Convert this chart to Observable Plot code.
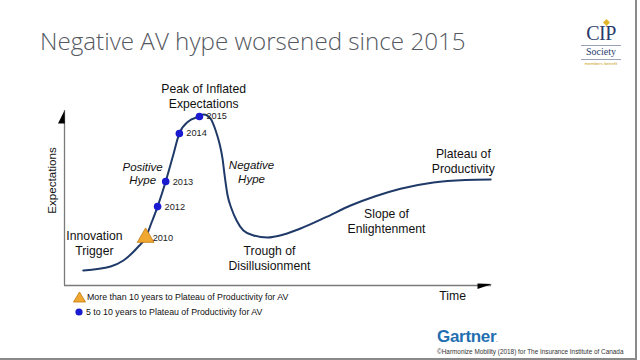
<!DOCTYPE html>
<html>
<head>
<meta charset="utf-8">
<script src="https://cdn.jsdelivr.net/npm/d3@7"></script>
<script src="https://cdn.jsdelivr.net/npm/@observablehq/plot@0.6"></script>
<style>
  html, body { margin: 0; padding: 0; background: #fff; }
  body { width: 640px; height: 360px; position: relative; overflow: hidden; font-family: "Liberation Sans", Arial, sans-serif; }
  #chart { position: absolute; left: 0; top: 0; }
  .title { position: absolute; left: 40px; top: 24px; font-family: "Open Sans", sans-serif; font-weight: 300; font-size: 24.2px; color: #55595f; white-space: nowrap; }
  .legend { position: absolute; left: 73px; font-size: 8.8px; color: #111; white-space: nowrap; display: flex; align-items: center; }
  .legend svg { margin-right: 1px; }
  .gartner { position: absolute; left: 437px; top: 327px; font-size: 17px; font-weight: bold; color: #1f6fb0; letter-spacing: -0.3px; }
  .copy { position: absolute; left: 437px; top: 348px; font-size: 6.4px; color: #333; white-space: nowrap; }
  .border-r { position: absolute; left: 635px; top: 0; width: 1.5px; height: 359px; background: #8a8a8a; }
  .border-b { position: absolute; left: 0; top: 358px; width: 637px; height: 1.5px; background: #8a8a8a; }
  .logo { position: absolute; left: 581px; top: 20px; width: 40px; text-align: center; font-family: "Liberation Serif", "DejaVu Serif", serif; color: #2b3b6b; }
  .logo .cip { font-size: 20px; line-height: 19px; margin-top: 4px; letter-spacing: -0.5px; }
  .logo .soc { font-size: 10px; line-height: 10px; border-top: 1px solid #9aa3b8; border-bottom: 1px solid #9aa3b8; margin-top: 2px; padding: 1px 0 2px; }
  .logo .mb { font-size: 4.4px; color: #c9a227; margin-top: 1px; font-family: "Liberation Sans", sans-serif; }
  .logo .gem { position: absolute; left: 23px; top: 0px; width: 5px; height: 5px; background: #e3b52a; transform: rotate(45deg); }
</style>
</head>
<body>
<div class="title">Negative AV hype worsened since 2015</div>
<div class="logo"><div class="gem"></div><div class="cip">CIP</div><div class="soc">Society</div><div class="mb">members benefit</div></div>
<div id="chart"></div>
<div class="legend" style="top:291px"><svg width="13" height="12"><path d="M6.5 1 L12.5 11 L0.5 11 Z" fill="#f0a830" stroke="#c07a10" stroke-width="0.8"/></svg>More than 10 years to Plateau of Productivity for AV</div>
<div class="legend" style="top:306px"><svg width="12" height="12"><circle cx="6" cy="6" r="3.6" fill="#1a1ad0"/></svg>5 to 10 years to Plateau of Productivity for AV</div>
<div class="gartner">Gartner<span style="font-size:5px;vertical-align:baseline">.</span></div>
<div class="copy">©Harmonize Mobility (2018) for The Insurance Institute of Canada</div>
<div class="border-r"></div>
<div class="border-b"></div>
<script>
// Hype-cycle curve (time 0–100, expectations 0–100)
const curveTime   = [4.4, 10.8, 13.8, 17.1, 19.0, 20.4, 21.8, 23.7, 25.3, 26.9, 29.0, 31.6, 32.6, 34.2, 35.4, 36.3, 37.0, 37.5, 38.2, 39.1, 40.3, 41.9, 44.3, 47.5, 51.3, 55.3, 61.1, 67.0, 72.8, 78.7, 86.4, 93.9, 99.8];
const curveExpect = [8.6, 10.9, 14.3, 21.7, 27.4, 36.0, 45.1, 59.4, 73.1, 86.9, 93.7, 96.6, 97.7, 95.4, 88.6, 81.1, 72.6, 62.9, 51.4, 44.0, 37.1, 31.4, 28.6, 27.4, 29.1, 32.6, 38.9, 45.7, 51.0, 55.3, 58.9, 60.3, 60.6];

// AV positions by year
const years      = ["2010", "2012", "2013", "2014", "2015"];
const yearTime   = [19.0, 21.8, 23.7, 26.9, 31.6];
const yearExpect = [27.4, 45.1, 59.4, 86.9, 96.6];
const yearGroup  = ["more than 10", "5 to 10", "5 to 10", "5 to 10", "5 to 10"];

// Phase labels
const phaseLabels = ["Peak of Inflated\nExpectations", "Innovation\nTrigger", "Trough of\nDisillusionment", "Slope of\nEnlightenment", "Plateau of\nProductivity"];
const phaseTime   = [32.6, 7.0, 48.0, 75.4, 93.4];
const phaseExpect = [108.3, 24.3, 15.7, 36.9, 71.4];
const hypeLabels  = ["Positive\nHype", "Negative\nHype"];
const hypeTime    = [18.3, 43.8];
const hypeExpect  = [64.3, 64.9];

const curve = curveTime.map((t, i) => ({t, e: curveExpect[i]}));
const pts = years.map((y, i) => ({year: y, t: yearTime[i], e: yearExpect[i], g: yearGroup[i]}));
const phases = phaseLabels.map((l, i) => ({label: l, t: phaseTime[i], e: phaseExpect[i]}));
const hypes = hypeLabels.map((l, i) => ({label: l, t: hypeTime[i], e: hypeExpect[i]}));

const upArrow = {draw(ctx) { ctx.moveTo(0, 0); ctx.lineTo(0.3, 13); ctx.lineTo(-6.5, 13); ctx.closePath(); }};
const rightArrow = {draw(ctx) { ctx.moveTo(-14, -2); ctx.lineTo(0.5, -1.5); ctx.lineTo(-14, 3.5); ctx.closePath(); }};

const chart = Plot.plot({
  width: 640, height: 360,
  marginLeft: 64, marginRight: 149, marginTop: 110, marginBottom: 75,
  x: {domain: [0, 100], axis: null},
  y: {domain: [0, 100], axis: null},
  style: {fontFamily: "'Liberation Sans', Arial, sans-serif", background: "transparent", overflow: "visible"},
  marks: [
    Plot.ruleX([0], {stroke: "#7a7a7a", strokeWidth: 1.3}),
    Plot.ruleY([0], {stroke: "#7a7a7a", strokeWidth: 1.3}),
    Plot.dot([{t: 0, e: 100}], {x: "t", y: "e", symbol: upArrow, fill: "#000", stroke: "none"}),
    Plot.dot([{t: 100, e: 0}], {x: "t", y: "e", symbol: rightArrow, fill: "#000", stroke: "none"}),
    Plot.line(curve, {x: "t", y: "e", curve: "monotone-x", stroke: "#1f3a68", strokeWidth: 2}),
    Plot.dot(pts.filter(d => d.g === "5 to 10"), {x: "t", y: "e", r: 3.8, fill: "#1a1ad0", stroke: "none"}),
    Plot.dot(pts.filter(d => d.g === "more than 10"), {x: "t", y: "e", symbol: "triangle", r: 6.2, fill: "#f0a830", stroke: "#c07a10", strokeWidth: 0.8}),
    Plot.text(pts, {x: "t", y: "e", text: "year", textAnchor: "start", dx: 7, fontSize: 9.2, fill: "#222"}),
    Plot.text(phases, {x: "t", y: "e", text: "label", fontSize: 12.2, lineHeight: 1.23, fill: "#111"}),
    Plot.text(hypes, {x: "t", y: "e", text: "label", fontSize: 11.5, fontStyle: "italic", lineHeight: 1.2, fill: "#111"}),
    Plot.text([{t: 90.9, e: -6.3, label: "Time"}], {x: "t", y: "e", text: "label", fontSize: 12.2, fill: "#111"}),
    Plot.text([{t: -2.8, e: 60, label: "Expectations"}], {x: "t", y: "e", text: "label", rotate: -90, fontSize: 11.6, fill: "#111"})
  ]
});
document.getElementById("chart").appendChild(chart);
</script>
</body>
</html>
